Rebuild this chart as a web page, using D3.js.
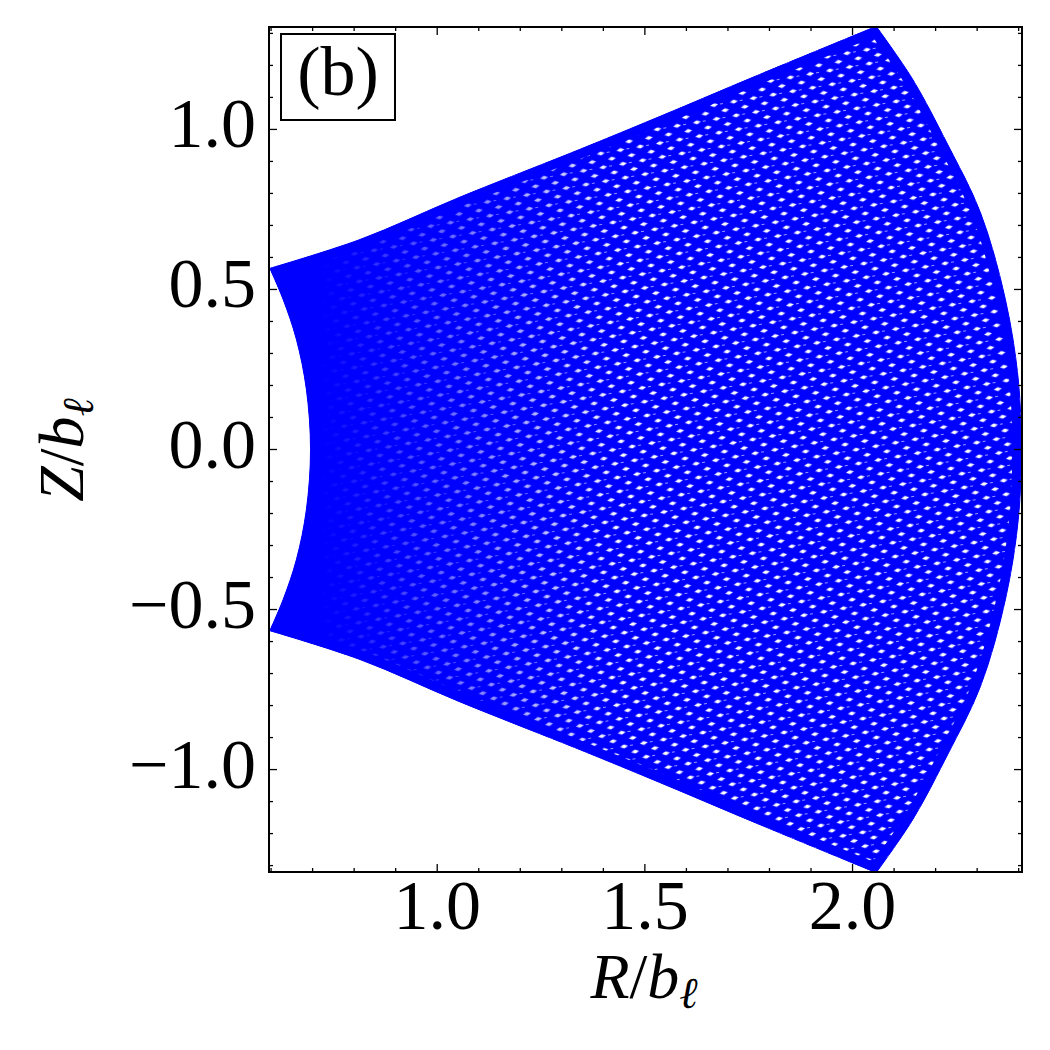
<!DOCTYPE html>
<html>
<head>
<meta charset="utf-8">
<script src="https://cdn.jsdelivr.net/npm/d3@7"></script>
<style>
  body { margin: 0; background: white; }
  svg { display: block; }
  text { font-family: 'Liberation Serif', 'DejaVu Serif', serif; fill: black; }
</style>
</head>
<body>
<div id="chart-container"></div>
<script>
// orbit envelope in the meridional plane as [R, Z]
const innerEdge = [
  [0.597, 0.566], [0.629, 0.469], [0.661, 0.344], [0.685, 0.188], [0.695, 0.0],
  [0.685, -0.188], [0.661, -0.344], [0.629, -0.469], [0.597, -0.566],
]
const bottomEdge = [
  [0.597, -0.566], [0.814, -0.656], [1.054, -0.788], [1.344, -0.938],
  [1.537, -1.041], [1.777, -1.172], [2.057, -1.322],
]
const outerEdge = [
  [2.057, -1.322], [2.145, -1.156], [2.227, -0.958], [2.308, -0.74],
  [2.368, -0.469], [2.399, -0.219], [2.406, 0.0], [2.399, 0.219],
  [2.368, 0.469], [2.308, 0.74], [2.227, 0.958], [2.145, 1.156], [2.057, 1.322],
]
const topEdge = [
  [2.057, 1.322], [1.777, 1.172], [1.537, 1.041], [1.344, 0.938],
  [1.054, 0.788], [0.814, 0.656], [0.597, 0.566],
]

const xDomain = [0.595, 2.408]
const yDomain = [-1.32, 1.32]
const xTicks = [1.0, 1.5, 2.0]
const yTicks = [-1.0, -0.5, 0.0, 0.5, 1.0]
const panelLabel = '(b)'

const width = 1050
const height = 1050
const margin = { top: 27, right: 28, bottom: 178, left: 269 }

const svg = d3
  .select('#chart-container')
  .append('svg')
  .attr('width', width)
  .attr('height', height)

const x = d3.scaleLinear().domain(xDomain).range([margin.left, width - margin.right])
const y = d3.scaleLinear().domain(yDomain).range([height - margin.bottom, margin.top])

const fmt = v => d3.format('.1f')(v).replace('-', '\u2212')

// texture: small white gaps between the orbit strands
const defs = svg.append('defs')
const pat = defs
  .append('pattern')
  .attr('id', 'gaps')
  .attr('patternUnits', 'userSpaceOnUse')
  .attr('width', 20)
  .attr('height', 14)
  .attr('patternTransform', 'rotate(-10)')
pat
  .append('path')
  .attr('fill', 'white')
  .attr('d', 'M1,3.5 L5,1.4 L9,3.5 L5,5.6 Z M11,10.5 L15,8.4 L19,10.5 L15,12.6 Z')
pat.append('rect').attr('x', 11).attr('y', 3).attr('width', 3).attr('height', 1).attr('fill', 'white').attr('opacity', 0.6)

// gaps fade out towards the inner edge where the strands pile up
const grad = defs
  .append('linearGradient')
  .attr('id', 'fade')
  .attr('gradientUnits', 'userSpaceOnUse')
  .attr('x1', x(0.72))
  .attr('x2', x(1.45))
  .attr('y1', 0)
  .attr('y2', 0)
grad.append('stop').attr('offset', 0).attr('stop-color', 'white').attr('stop-opacity', 0)
grad.append('stop').attr('offset', 1).attr('stop-color', 'white').attr('stop-opacity', 1)
const mask = defs.append('mask').attr('id', 'fadeMask')
mask
  .append('rect')
  .attr('x', 0)
  .attr('y', 0)
  .attr('width', width)
  .attr('height', height)
  .attr('fill', 'url(#fade)')

const curved = d3
  .line()
  .x(d => x(d[0]))
  .y(d => y(d[1]))
  .curve(d3.curveCatmullRom)

const orbitPath =
  [innerEdge, bottomEdge, outerEdge, topEdge]
    .map((e, i) => (i ? curved(e).replace(/^M/, 'L') : curved(e)))
    .join('') + 'Z'

defs.append('clipPath').attr('id', 'orbitClip').append('path').attr('d', orbitPath)

svg.append('path').attr('d', orbitPath).attr('fill', '#0000ff').attr('stroke', '#0000ff').attr('stroke-width', 1)

const inside = svg.append('g').attr('clip-path', 'url(#orbitClip)')
inside
  .append('rect')
  .attr('x', x(0.6))
  .attr('y', y(1.32))
  .attr('width', x(2.41) - x(0.6))
  .attr('height', y(-1.32) - y(1.32))
  .attr('fill', 'url(#gaps)')
  .attr('mask', 'url(#fadeMask)')

// strands crowd together along the envelope
inside
  .append('path')
  .attr('d', orbitPath)
  .attr('fill', 'none')
  .attr('stroke', '#0000ff')
  .attr('stroke-width', 18)

// ticks on all four sides, pointing inward
const majorLen = 8
const minorLen = 4
const xMinor = d3.range(0.6, 2.41, 0.1).filter(v => !xTicks.some(t => Math.abs(t - v) < 1e-6))
const yMinor = d3.range(-1.3, 1.31, 0.1).filter(v => !yTicks.some(t => Math.abs(t - v) < 1e-6))

const tickG = svg.append('g').attr('stroke', 'black').attr('stroke-width', 1.3)
const x0 = margin.left
const x1 = width - margin.right
const y0 = height - margin.bottom
const y1 = margin.top

;[[xTicks, majorLen], [xMinor, minorLen]].forEach(([vals, len]) => {
  tickG
    .selectAll(null)
    .data(vals)
    .join('line')
    .attr('x1', d => x(d))
    .attr('x2', d => x(d))
    .attr('y1', y0)
    .attr('y2', y0 - len)
  tickG
    .selectAll(null)
    .data(vals)
    .join('line')
    .attr('x1', d => x(d))
    .attr('x2', d => x(d))
    .attr('y1', y1)
    .attr('y2', y1 + len)
})
;[[yTicks, majorLen], [yMinor, minorLen]].forEach(([vals, len]) => {
  tickG
    .selectAll(null)
    .data(vals)
    .join('line')
    .attr('y1', d => y(d))
    .attr('y2', d => y(d))
    .attr('x1', x0)
    .attr('x2', x0 + len)
  tickG
    .selectAll(null)
    .data(vals)
    .join('line')
    .attr('y1', d => y(d))
    .attr('y2', d => y(d))
    .attr('x1', x1)
    .attr('x2', x1 - len)
})

// frame
svg
  .append('rect')
  .attr('x', x0)
  .attr('y', y1)
  .attr('width', x1 - x0)
  .attr('height', y0 - y1)
  .attr('fill', 'none')
  .attr('stroke', 'black')
  .attr('stroke-width', 2)

// tick labels
svg
  .append('g')
  .selectAll('text')
  .data(xTicks)
  .join('text')
  .attr('x', d => x(d))
  .attr('y', 929)
  .attr('text-anchor', 'middle')
  .attr('font-size', 70)
  .text(fmt)

svg
  .append('g')
  .selectAll('text')
  .data(yTicks)
  .join('text')
  .attr('x', 256)
  .attr('y', d => y(d) + 18)
  .attr('text-anchor', 'end')
  .attr('font-size', 70)
  .text(fmt)

// axis labels
const xLabel = svg
  .append('text')
  .attr('x', 644)
  .attr('y', 998)
  .attr('text-anchor', 'middle')
  .attr('font-size', 64)
xLabel.append('tspan').attr('font-style', 'italic').text('R')
xLabel.append('tspan').text('/')
xLabel.append('tspan').attr('font-style', 'italic').text('b')
xLabel.append('tspan').attr('font-style', 'italic').attr('font-size', 44).attr('dy', 10).text('ℓ')

const yLabel = svg
  .append('text')
  .attr('transform', 'translate(83,450) rotate(-90)')
  .attr('text-anchor', 'middle')
  .attr('font-size', 64)
yLabel.append('tspan').attr('font-style', 'italic').text('Z')
yLabel.append('tspan').text('/')
yLabel.append('tspan').attr('font-style', 'italic').text('b')
yLabel.append('tspan').attr('font-style', 'italic').attr('font-size', 44).attr('dy', 10).text('ℓ')

// panel label box
svg
  .append('rect')
  .attr('x', 281)
  .attr('y', 34)
  .attr('width', 114)
  .attr('height', 86)
  .attr('fill', 'white')
  .attr('stroke', 'black')
  .attr('stroke-width', 2)
svg
  .append('text')
  .attr('x', 338)
  .attr('y', 95)
  .attr('text-anchor', 'middle')
  .attr('font-size', 70)
  .text(panelLabel)
</script>
</body>
</html>
